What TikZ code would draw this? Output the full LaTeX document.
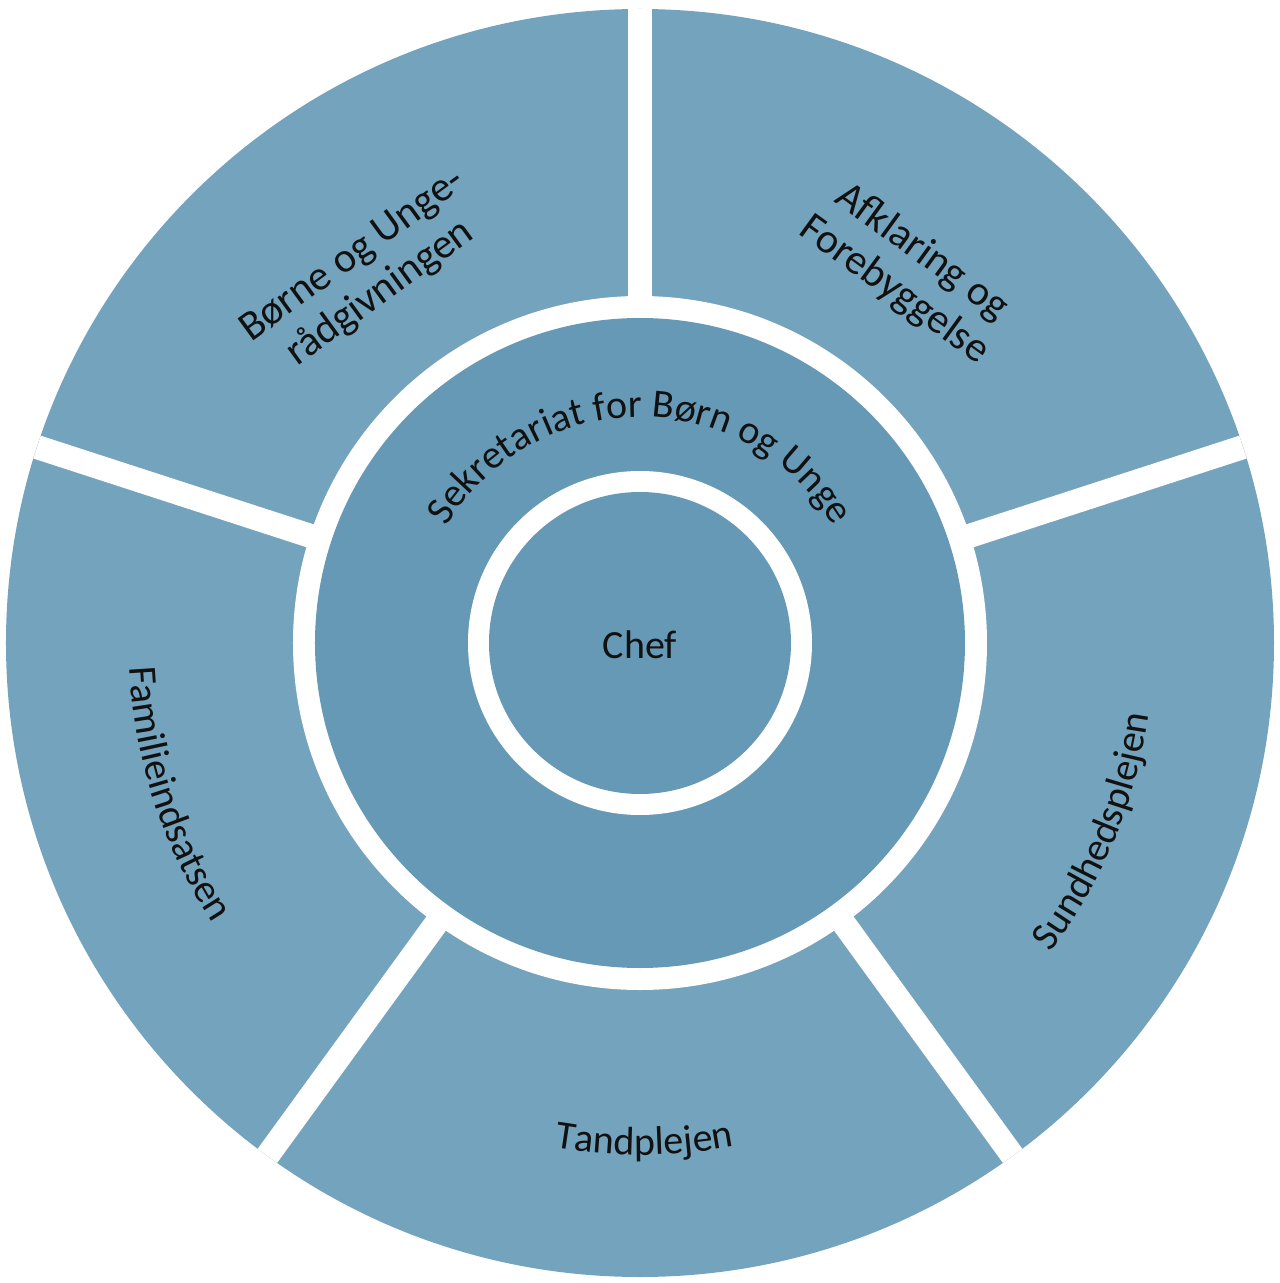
\documentclass[tikz,border=0pt]{standalone}
\usepackage{fontspec}
\setmainfont{Carlito}
\usetikzlibrary{decorations.text}
\definecolor{outerblue}{RGB}{116,163,189}
\definecolor{innerblue}{RGB}{102,153,181}
\definecolor{txt}{RGB}{17,17,17}
\newcommand{\lblfont}{\fontsize{40}{48}\selectfont}
\newcommand{\twolinefont}{\fontsize{42}{47}\selectfont}
\begin{document}
\begin{tikzpicture}[
  seglabel/.style={font=\lblfont, text=txt, align=center, inner sep=0pt},
  twolabel/.style={font=\twolinefont, text=txt, align=center, inner sep=0pt},
  arclabel/.style={decorate, decoration={text along path, text align=center, text color=txt}},
  gapbar/.style={white, line width=24pt},
]
\useasboundingbox (-640pt,-640pt) rectangle (640pt,643pt);
\fill[white] (-640pt,-640pt) rectangle (640pt,643pt);
% outer ring segments
\fill[outerblue] (0,0) circle[radius=634pt];
\foreach \a in {90,18,-54,-126,162} \draw[gapbar] (0,0) -- (\a:634pt);
\fill[white] (0,0) circle[radius=347pt];
% middle ring
\fill[innerblue] (0,0) circle[radius=325pt];
\fill[white] (0,0) circle[radius=172pt];
% centre
\fill[innerblue] (0,0) circle[radius=151pt];
\node[seglabel] (chef) at (0,-2pt) {Chef};
\node[twolabel, rotate=36] (boerne) at (-273pt,368pt) {Børne og Unge-\\rådgivningen};
\node[twolabel, rotate=-36] (afklaring) at (268pt,372pt) {Afklaring og\\Forebyggelse};
\path[arclabel, decoration={text={|\lblfont|Sekretariat for Børn og Unge}}]
  (160:226pt) arc[start angle=160, end angle=20, radius=226pt];
\path[arclabel, decoration={text={|\lblfont|Familieindsatsen}}]
  (168:511pt) arc[start angle=168, end angle=228, radius=511pt];
\path[arclabel, decoration={text={|\lblfont|Sundhedsplejen}}]
  (-52:514pt) arc[start angle=-52, end angle=7, radius=514pt];
\path[arclabel, decoration={text={|\lblfont|Tandplejen}}]
  (255:512pt) arc[start angle=255, end angle=286, radius=512pt];
\end{tikzpicture}
\end{document}
